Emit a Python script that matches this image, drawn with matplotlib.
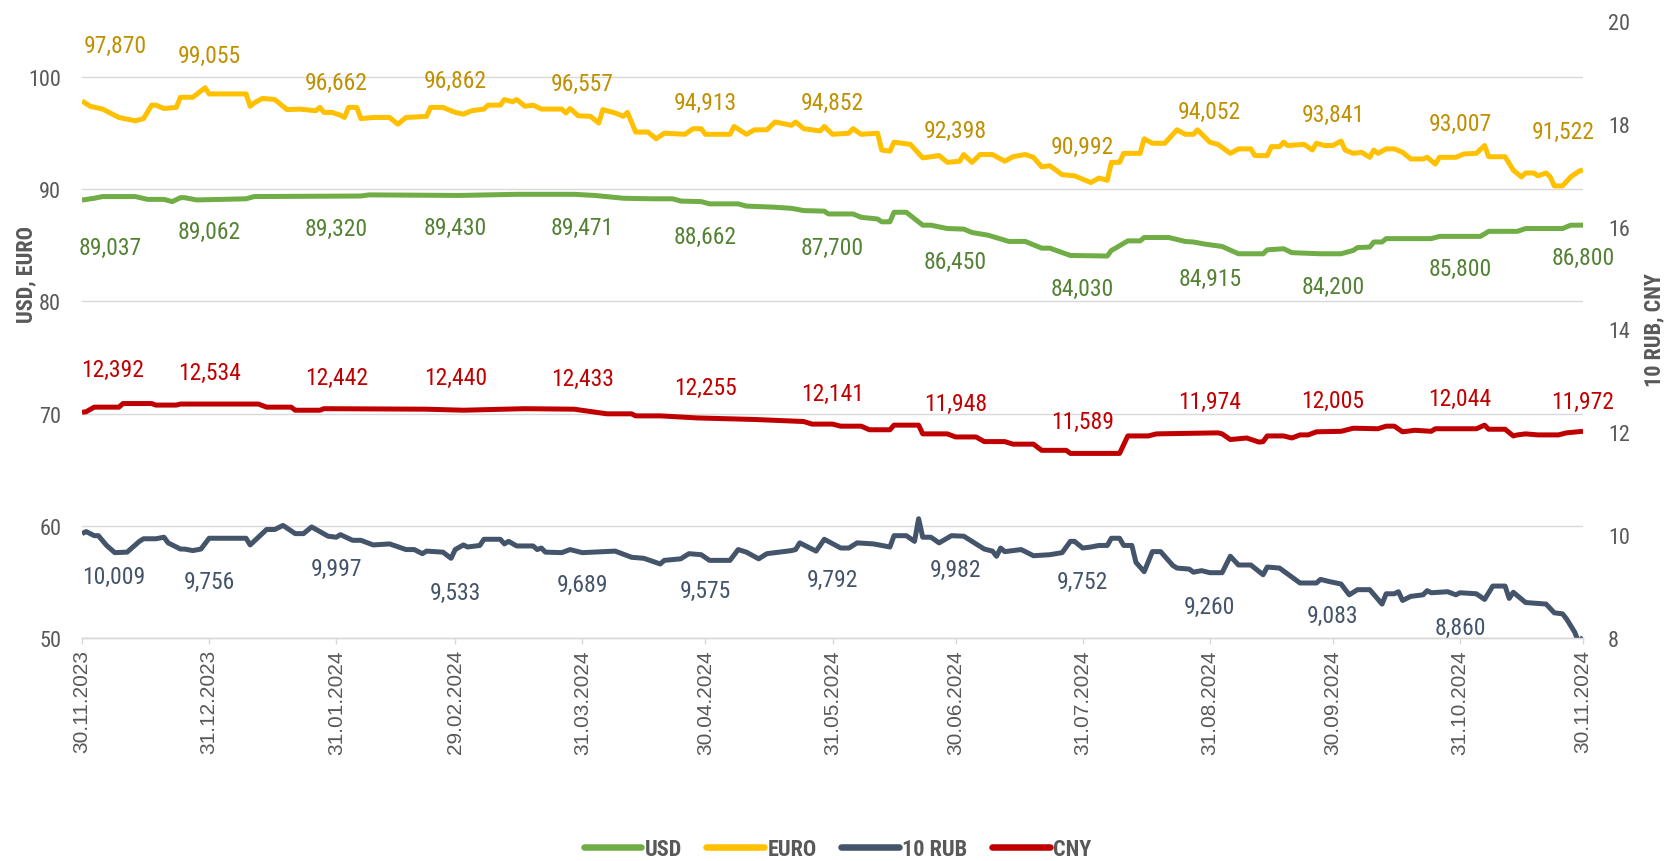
from datetime import datetime
from matplotlib import pyplot as plt
from matplotlib import font_manager
import pandas as pd

# fonts: a narrow one for numbers, like arial narrow in the original
names = {f.name for f in font_manager.fontManager.ttflist}
prefer = ['Liberation Sans Narrow', 'Arial Narrow', 'Roboto Condensed', 'Open Sans Condensed',
          'Noto Sans Condensed', 'DejaVu Sans Condensed']
narrow = next((n for n in prefer if n in names), None)
if narrow is None:
    narrow = next((n for n in sorted(names) if 'Narrow' in n or 'Condensed' in n), None)
if narrow is None:
    narrow = 'Liberation Sans'
    fs_label, fs_tick, fs_leg = 15.5, 15, 15
else:
    fs_label, fs_tick, fs_leg = 17, 16, 16
plt.rcParams['font.family'] = [narrow, 'DejaVu Sans']

# colors
c_usd = '#70AD47'
c_euro = '#FFC000'
c_rub = '#44546A'
c_cny = '#C00000'
c_text = '#595959'
c_grid = '#D9D9D9'

# data
euro_dates = ['30.11.23', '02.12.23', '05.12.23', '09.12.23', '13.12.23', '15.12.23', '17.12.23', '18.12.23',
              '20.12.23', '23.12.23', '24.12.23', '27.12.23', '30.12.23', '31.12.23', '09.01.24', '10.01.24',
              '11.01.24', '13.01.24', '16.01.24', '18.01.24', '19.01.24', '22.01.24', '26.01.24', '27.01.24',
              '28.01.24', '30.01.24', '01.02.24', '02.02.24', '03.02.24', '05.02.24', '06.02.24', '09.02.24',
              '13.02.24', '15.02.24', '17.02.24', '22.02.24', '23.02.24', '26.02.24', '29.02.24', '02.03.24',
              '04.03.24', '07.03.24', '08.03.24', '11.03.24', '12.03.24', '14.03.24', '15.03.24', '17.03.24',
              '19.03.24', '21.03.24', '26.03.24', '27.03.24', '28.03.24', '30.03.24', '02.04.24', '04.04.24',
              '05.04.24', '08.04.24', '10.04.24', '11.04.24', '13.04.24', '16.04.24', '18.04.24', '20.04.24',
              '25.04.24', '27.04.24', '29.04.24', '30.04.24', '06.05.24', '07.05.24', '10.05.24', '12.05.24',
              '15.05.24', '17.05.24', '21.05.24', '22.05.24', '24.05.24', '28.05.24', '29.05.24', '31.05.24',
              '04.06.24', '05.06.24', '07.06.24', '11.06.24', '12.06.24', '14.06.24', '15.06.24', '19.06.24',
              '22.06.24', '24.06.24', '26.06.24', '28.06.24', '01.07.24', '02.07.24', '04.07.24', '06.07.24',
              '09.07.24', '12.07.24', '14.07.24', '17.07.24', '19.07.24', '21.07.24', '23.07.24', '26.07.24',
              '29.07.24', '02.08.24', '04.08.24', '06.08.24', '07.08.24', '09.08.24', '10.08.24', '14.08.24',
              '15.08.24', '17.08.24', '20.08.24', '22.08.24', '23.08.24', '25.08.24', '27.08.24', '28.08.24',
              '31.08.24', '02.09.24', '05.09.24', '07.09.24', '10.09.24', '11.09.24', '14.09.24', '15.09.24',
              '17.09.24', '18.09.24', '19.09.24', '23.09.24', '25.09.24', '26.09.24', '28.09.24', '30.09.24',
              '02.10.24', '03.10.24', '05.10.24', '07.10.24', '09.10.24', '10.10.24', '11.10.24', '13.10.24',
              '15.10.24', '17.10.24', '19.10.24', '22.10.24', '23.10.24', '25.10.24', '26.10.24', '30.10.24',
              '01.11.24', '04.11.24', '06.11.24', '07.11.24', '11.11.24', '13.11.24', '15.11.24', '16.11.24',
              '18.11.24', '19.11.24', '21.11.24', '22.11.24', '23.11.24', '25.11.24', '27.11.24', '29.11.24',
              '30.11.24']
euro_vals = [97.87, 97.4, 97.15, 96.4, 96.1, 96.3, 97.5, 97.5,
             97.2, 97.3, 98.2, 98.2, 99.05, 98.5, 98.5, 97.4,
             97.7, 98.1, 98.0, 97.4, 97.1, 97.15, 97.0, 97.3,
             96.85, 96.85, 96.6, 96.4, 97.3, 97.3, 96.3, 96.4,
             96.4, 95.8, 96.4, 96.5, 97.3, 97.3, 96.85, 96.7,
             97.0, 97.15, 97.5, 97.5, 98.0, 97.8, 98.0, 97.4,
             97.5, 97.15, 97.15, 96.8, 97.2, 96.55, 96.5, 95.9,
             97.1, 96.8, 96.5, 96.85, 95.1, 95.1, 94.5, 95.0,
             94.9, 95.4, 95.4, 94.9, 94.9, 95.6, 94.9, 95.3,
             95.3, 96.0, 95.7, 96.0, 95.4, 95.2, 95.6, 94.9,
             95.0, 95.4, 94.9, 95.0, 93.5, 93.4, 94.2, 94.0,
             92.8, 92.9, 93.0, 92.4, 92.5, 93.1, 92.4, 93.1,
             93.1, 92.5, 92.9, 93.1, 92.85, 92.0, 92.1, 91.3,
             91.2, 90.6, 91.0, 90.8, 92.4, 92.4, 93.2, 93.2,
             94.5, 94.1, 94.1, 94.9, 95.3, 94.9, 94.9, 95.3,
             94.2, 94.0, 93.2, 93.6, 93.6, 93.0, 93.0, 93.8,
             93.8, 94.2, 93.9, 94.0, 93.5, 94.1, 93.9, 93.9,
             94.3, 93.5, 93.2, 93.3, 92.85, 93.5, 93.2, 93.6,
             93.6, 93.3, 92.7, 92.7, 92.85, 92.25, 92.85, 92.85,
             93.15, 93.2, 93.9, 92.9, 92.9, 91.7, 91.1, 91.45,
             91.45, 91.2, 91.45, 91.1, 90.3, 90.3, 91.1, 91.6,
             91.75]

usd_dates = ['30.11.23', '03.12.23', '05.12.23', '13.12.23', '16.12.23', '20.12.23', '22.12.23', '24.12.23',
             '25.12.23', '28.12.23', '09.01.24', '11.01.24', '06.02.24', '08.02.24', '01.03.24', '15.03.24',
             '29.03.24', '03.04.24', '10.04.24', '17.04.24', '22.04.24', '24.04.24', '29.04.24', '01.05.24',
             '08.05.24', '10.05.24', '17.05.24', '21.05.24', '24.05.24', '29.05.24', '30.05.24', '05.06.24',
             '07.06.24', '11.06.24', '12.06.24', '14.06.24', '15.06.24', '18.06.24', '22.06.24', '24.06.24',
             '28.06.24', '02.07.24', '04.07.24', '08.07.24', '13.07.24', '17.07.24', '21.07.24', '23.07.24',
             '28.07.24', '06.08.24', '07.08.24', '08.08.24', '11.08.24', '14.08.24', '15.08.24', '21.08.24',
             '25.08.24', '27.08.24', '30.08.24', '03.09.24', '07.09.24', '13.09.24', '14.09.24', '18.09.24',
             '20.09.24', '27.09.24', '02.10.24', '05.10.24', '06.10.24', '09.10.24', '10.10.24', '12.10.24',
             '13.10.24', '24.10.24', '26.10.24', '05.11.24', '07.11.24', '14.11.24', '16.11.24', '25.11.24',
             '27.11.24', '30.11.24']
usd_vals = [89.04, 89.2, 89.35, 89.35, 89.1, 89.1, 88.9, 89.25,
            89.25, 89.05, 89.15, 89.35, 89.4, 89.5, 89.45, 89.55,
            89.55, 89.45, 89.2, 89.15, 89.15, 88.95, 88.9, 88.7,
            88.7, 88.5, 88.4, 88.3, 88.1, 88.05, 87.8, 87.8,
            87.5, 87.35, 87.1, 87.1, 87.95, 87.95, 86.8, 86.8,
            86.5, 86.45, 86.15, 85.9, 85.35, 85.35, 84.75, 84.75,
            84.1, 84.05, 84.55, 84.75, 85.4, 85.4, 85.7, 85.7,
            85.35, 85.3, 85.1, 84.9, 84.25, 84.25, 84.6, 84.7,
            84.35, 84.25, 84.25, 84.55, 84.8, 84.85, 85.3, 85.3,
            85.6, 85.6, 85.8, 85.8, 86.25, 86.25, 86.5, 86.5,
            86.8, 86.8]

cny_dates = ['30.11.23', '01.12.23', '03.12.23', '09.12.23', '10.12.23', '17.12.23', '18.12.23', '23.12.23',
             '24.12.23', '12.01.24', '14.01.24', '20.01.24', '21.01.24', '27.01.24', '28.01.24', '22.02.24',
             '02.03.24', '17.03.24', '29.03.24', '06.04.24', '12.04.24', '13.04.24', '19.04.24', '28.04.24',
             '12.05.24', '24.05.24', '26.05.24', '31.05.24', '02.06.24', '07.06.24', '09.06.24', '14.06.24',
             '15.06.24', '21.06.24', '22.06.24', '28.06.24', '30.06.24', '05.07.24', '07.07.24', '12.07.24',
             '14.07.24', '19.07.24', '21.07.24', '27.07.24', '28.07.24', '09.08.24', '11.08.24', '16.08.24',
             '18.08.24', '02.09.24', '03.09.24', '05.09.24', '09.09.24', '12.09.24', '13.09.24', '14.09.24',
             '18.09.24', '20.09.24', '22.09.24', '24.09.24', '26.09.24', '02.10.24', '05.10.24', '11.10.24',
             '13.10.24', '15.10.24', '17.10.24', '20.10.24', '24.10.24', '25.10.24', '04.11.24', '06.11.24',
             '07.11.24', '11.11.24', '13.11.24', '14.11.24', '16.11.24', '19.11.24', '24.11.24', '26.11.24',
             '30.11.24']
cny_vals = [12.39, 12.40, 12.49, 12.49, 12.56, 12.56, 12.53, 12.53,
            12.55, 12.55, 12.49, 12.49, 12.43, 12.43, 12.46, 12.45,
            12.43, 12.46, 12.45, 12.36, 12.36, 12.32, 12.32, 12.28,
            12.25, 12.21, 12.16, 12.16, 12.12, 12.12, 12.05, 12.05,
            12.14, 12.14, 11.97, 11.97, 11.91, 11.91, 11.82, 11.82,
            11.77, 11.77, 11.65, 11.65, 11.59, 11.59, 11.93, 11.93,
            11.97, 11.99, 11.97, 11.86, 11.89, 11.81, 11.82, 11.93,
            11.93, 11.89, 11.95, 11.95, 12.01, 12.02, 12.08, 12.07,
            12.12, 12.12, 12.01, 12.04, 12.02, 12.07, 12.07, 12.14,
            12.06, 12.06, 11.93, 11.95, 11.97, 11.95, 11.95, 11.99,
            12.02]

rub_dates = ['30.11.23', '01.12.23', '03.12.23', '04.12.23', '06.12.23', '08.12.23', '11.12.23', '14.12.23',
             '15.12.23', '18.12.23', '20.12.23', '21.12.23', '24.12.23', '25.12.23', '27.12.23', '29.12.23',
             '31.12.23', '09.01.24', '10.01.24', '14.01.24', '16.01.24', '18.01.24', '21.01.24', '23.01.24',
             '25.01.24', '27.01.24', '29.01.24', '31.01.24', '01.02.24', '04.02.24', '06.02.24', '09.02.24',
             '13.02.24', '17.02.24', '19.02.24', '21.02.24', '22.02.24', '26.02.24', '28.02.24', '29.02.24',
             '02.03.24', '03.03.24', '06.03.24', '07.03.24', '11.03.24', '12.03.24', '13.03.24', '15.03.24',
             '19.03.24', '20.03.24', '21.03.24', '22.03.24', '26.03.24', '28.03.24', '31.03.24', '08.04.24',
             '12.04.24', '15.04.24', '19.04.24', '20.04.24', '24.04.24', '26.04.24', '29.04.24', '01.05.24',
             '06.05.24', '08.05.24', '10.05.24', '13.05.24', '15.05.24', '21.05.24', '22.05.24', '23.05.24',
             '27.05.24', '29.05.24', '02.06.24', '04.06.24', '06.06.24', '10.06.24', '14.06.24', '15.06.24',
             '18.06.24', '20.06.24', '21.06.24', '22.06.24', '24.06.24', '26.06.24', '29.06.24', '02.07.24',
             '03.07.24', '07.07.24', '09.07.24', '10.07.24', '11.07.24', '12.07.24', '16.07.24', '19.07.24',
             '23.07.24', '26.07.24', '28.07.24', '29.07.24', '31.07.24', '02.08.24', '04.08.24', '06.08.24',
             '07.08.24', '09.08.24', '10.08.24', '12.08.24', '13.08.24', '15.08.24', '17.08.24', '19.08.24',
             '22.08.24', '23.08.24', '26.08.24', '27.08.24', '29.08.24', '31.08.24', '03.09.24', '05.09.24',
             '07.09.24', '10.09.24', '13.09.24', '14.09.24', '17.09.24', '22.09.24', '26.09.24', '27.09.24',
             '29.09.24', '02.10.24', '04.10.24', '06.10.24', '09.10.24', '12.10.24', '13.10.24', '15.10.24',
             '16.10.24', '17.10.24', '19.10.24', '22.10.24', '23.10.24', '24.10.24', '28.10.24', '30.10.24',
             '31.10.24', '04.11.24', '06.11.24', '08.11.24', '11.11.24', '12.11.24', '13.11.24', '16.11.24',
             '21.11.24', '23.11.24', '25.11.24', '26.11.24', '28.11.24', '29.11.24', '30.11.24']
rub_vals = [10.03, 10.07, 9.99, 9.99, 9.80, 9.66, 9.67, 9.88,
            9.93, 9.93, 9.96, 9.85, 9.73, 9.73, 9.70, 9.73,
            9.94, 9.94, 9.81, 10.11, 10.11, 10.19, 10.03, 10.03,
            10.16, 10.07, 9.98, 9.96, 10.01, 9.90, 9.90, 9.81,
            9.83, 9.72, 9.72, 9.64, 9.69, 9.67, 9.55, 9.72,
            9.81, 9.77, 9.80, 9.92, 9.92, 9.83, 9.88, 9.79,
            9.79, 9.72, 9.75, 9.67, 9.66, 9.72, 9.66, 9.69,
            9.57, 9.55, 9.44, 9.51, 9.54, 9.64, 9.62, 9.51,
            9.51, 9.72, 9.67, 9.54, 9.64, 9.70, 9.72, 9.85,
            9.69, 9.92, 9.75, 9.75, 9.85, 9.83, 9.77, 9.99,
            9.99, 9.88, 10.32, 9.96, 9.96, 9.85, 9.99, 9.98,
            9.93, 9.73, 9.69, 9.59, 9.75, 9.68, 9.72, 9.60,
            9.62, 9.66, 9.88, 9.88, 9.75, 9.77, 9.80, 9.80,
            9.94, 9.94, 9.80, 9.80, 9.47, 9.29, 9.68, 9.68,
            9.41, 9.36, 9.34, 9.28, 9.31, 9.27, 9.27, 9.59,
            9.42, 9.42, 9.23, 9.38, 9.36, 9.07, 9.07, 9.14,
            9.10, 9.05, 8.84, 8.94, 8.94, 8.66, 8.86, 8.86,
            8.90, 8.73, 8.81, 8.84, 8.92, 8.88, 8.90, 8.84,
            8.88, 8.86, 8.75, 9.01, 9.01, 8.77, 8.89, 8.69,
            8.66, 8.49, 8.47, 8.37, 8.11, 7.90, 8.02]

# month ends: ticks and value labels
month_ends = ['30.11.2023', '31.12.2023', '31.01.2024', '29.02.2024', '31.03.2024', '30.04.2024',
              '31.05.2024', '30.06.2024', '31.07.2024', '31.08.2024', '30.09.2024', '31.10.2024',
              '30.11.2024']
euro_labels = [97.870, 99.055, 96.662, 96.862, 96.557, 94.913, 94.852, 92.398, 90.992, 94.052, 93.841, 93.007, 91.522]
usd_labels = [89.037, 89.062, 89.320, 89.430, 89.471, 88.662, 87.700, 86.450, 84.030, 84.915, 84.200, 85.800, 86.800]
cny_labels = [12.392, 12.534, 12.442, 12.440, 12.433, 12.255, 12.141, 11.948, 11.589, 11.974, 12.005, 12.044, 11.972]
rub_labels = [10.009, 9.756, 9.997, 9.533, 9.689, 9.575, 9.792, 9.982, 9.752, 9.260, 9.083, 8.860]


def to_dates(lst):
    return pd.to_datetime(lst, format='%d.%m.%y')


def fmt(v):
    return f'{v:.3f}'.replace('.', ',')


tick_dates = pd.to_datetime(month_ends, format='%d.%m.%Y')

fig = plt.figure(figsize=(16.75, 8.62), dpi=100)
ax = fig.add_axes([82 / 1675, 1 - 639 / 862, (1583 - 82) / 1675, (639 - 22) / 862])
ax2 = ax.twinx()

line_kw = dict(lw=3.6, solid_joinstyle='round', solid_capstyle='butt')
l_usd, = ax.plot(to_dates(usd_dates), usd_vals, color=c_usd, label='USD', **line_kw)
l_euro, = ax.plot(to_dates(euro_dates), euro_vals, color=c_euro, label='EURO', **line_kw)
l_rub, = ax2.plot(to_dates(rub_dates), rub_vals, color=c_rub, label='10 RUB', **line_kw)
l_cny, = ax2.plot(to_dates(cny_dates), cny_vals, color=c_cny, label='CNY', **line_kw)

# axes setup
ax.set_xlim(datetime(2023, 11, 30), datetime(2024, 11, 30))
ax.set_ylim(50, 105)
ax.set_yticks([50, 60, 70, 80, 90, 100])
ax2.set_ylim(8, 20)
ax2.set_yticks([8, 10, 12, 14, 16, 18, 20])
ax.grid(axis='y', color=c_grid, lw=1.0)
ax.set_axisbelow(True)
for a in (ax, ax2):
    for s in ('top', 'left', 'right'):
        a.spines[s].set_visible(False)
    a.spines['bottom'].set_color(c_grid)
    a.spines['bottom'].set_linewidth(1.0)

ax.set_xticks(tick_dates)
ax.set_xticklabels([d.strftime('%d.%m.%Y') for d in tick_dates], rotation=90,
                   family='Liberation Sans', fontsize=15, color=c_text)
ax.tick_params(axis='x', length=4, width=1.0, color=c_grid, pad=4)
ax.tick_params(axis='y', length=0, pad=15, labelsize=fs_tick, labelcolor=c_text)
ax2.tick_params(axis='y', length=0, pad=18, labelsize=fs_tick, labelcolor=c_text)

ax.set_ylabel('USD, EURO', fontsize=16, fontweight='bold', color=c_text)
ax.yaxis.set_label_coords(-0.030, 0.59)
ax2.set_ylabel('10 RUB, CNY', fontsize=16, fontweight='bold', color=c_text)
ax2.yaxis.set_label_coords(1.040, 0.5)


# value labels at month ends
def put_labels(a, values, color, dy, first, last=None):
    for i, v in enumerate(values):
        off = (0, dy)
        if i == 0:
            off = first
        elif last is not None and i == len(month_ends) - 1:
            off = last
        a.annotate(fmt(v), xy=(tick_dates[i], v), xytext=off, textcoords='offset points',
                   ha='center', va='center', fontsize=fs_label, color=color, annotation_clip=False)


put_labels(ax, euro_labels, '#BF9000', 23, (24, 40), (-14, 29))
put_labels(ax, usd_labels, '#548235', -23, (20, -34))
put_labels(ax2, cny_labels, c_cny, 23, (22, 31))
put_labels(ax2, rub_labels, c_rub, -24, (23, -30))

leg = fig.legend(handles=[l_usd, l_euro, l_rub, l_cny], loc='center', bbox_to_anchor=(0.5, 0.014),
                 ncol=4, frameon=False, handlelength=2.6, handletextpad=0.15, columnspacing=1.1,
                 prop={'weight': 'bold', 'size': fs_leg})
for t in leg.get_texts():
    t.set_color(c_text)
for h in leg.get_lines():
    h.set_linewidth(4.7)
    h.set_solid_capstyle('round')

fig.savefig('out.png', dpi=100)
